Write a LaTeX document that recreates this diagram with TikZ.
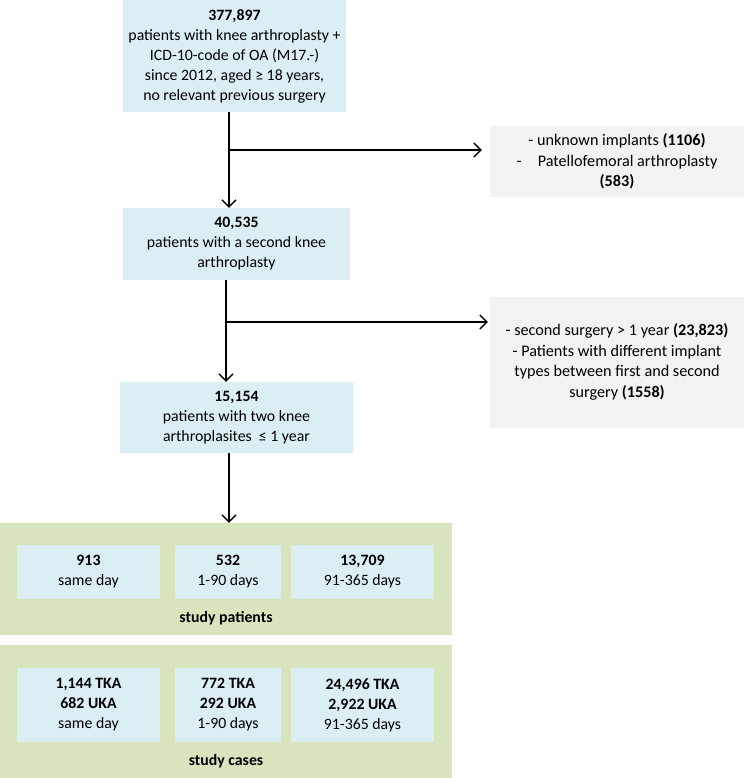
\documentclass[tikz,border=0pt]{standalone}
\usepackage{fontspec}
\setmainfont{Carlito}
\usetikzlibrary{arrows.meta}
\definecolor{boxblue}{HTML}{DBEEF4}
\definecolor{boxgrey}{HTML}{F2F2F2}
\definecolor{boxgreen}{HTML}{D7E4BD}
\tikzset{
  bluebox/.style={fill=boxblue, inner sep=0pt, align=center, font=\fontsize{15.8}{20}\selectfont},
  greybox/.style={fill=boxgrey, inner sep=0pt, align=center, font=\fontsize{16.2}{20.5}\selectfont},
  greenpanel/.style={fill=boxgreen, inner sep=0pt},
  flow/.style={line width=1.4pt, -{Straight Barb[length=7pt,width=14pt,line width=1.4pt]}},
  lbl/.style={font=\fontsize{15.8}{20}\selectfont\bfseries, inner sep=0pt}
}
\begin{document}
\begin{tikzpicture}[x=1pt,y=-1pt]
\useasboundingbox (0,0) rectangle (744,778);
% top boxes
\node[bluebox, minimum width=223pt, minimum height=112pt] (b1) at (234.5,56)
  {\textbf{377,897}\\patients with knee arthroplasty +\\ICD-10-code of OA (M17.-)\\since 2012, aged ≥ 18 years,\\no relevant previous surgery};
\node[bluebox, minimum width=227pt, minimum height=72pt] (b2) at (236.5,244)
  {\textbf{40,535}\\patients with a second knee\\arthroplasty};
\node[bluebox, minimum width=233pt, minimum height=71pt] (b3) at (236.5,417.5)
  {\textbf{15,154}\\patients with two knee\\arthroplasites\ \ ≤ 1 year};
\node[greybox, minimum width=254pt, minimum height=71pt] (g1) at (617,161.5)
  {- unknown implants \textbf{(1106)}\\-\quad Patellofemoral arthroplasty\\\textbf{(583)}};
\node[greybox, minimum width=254pt, minimum height=131pt] (g2) at (617,362)
  {- second surgery > 1 year \textbf{(23,823)}\\- Patients with different implant\\types between first and second\\surgery \textbf{(1558)}};
% green panels
\node[greenpanel, minimum width=452pt, minimum height=112pt] (p1) at (226,579) {};
\node[greenpanel, minimum width=452pt, minimum height=133pt] (p2) at (226,711.5) {};
\node[bluebox, minimum width=143pt, minimum height=54pt] (s1) at (88.5,572) {\textbf{913}\\same day};
\node[bluebox, minimum width=106pt, minimum height=54pt] (s2) at (228,572) {\textbf{532}\\1-90 days};
\node[bluebox, minimum width=143pt, minimum height=54pt] (s3) at (362.5,572) {\textbf{13,709}\\91-365 days};
\node[lbl] (l1) at (226,618) {study patients};
\node[bluebox, minimum width=143pt, minimum height=74pt] (c1) at (88.5,705) {\textbf{1,144 TKA}\\\textbf{682 UKA}\\same day};
\node[bluebox, minimum width=106pt, minimum height=74pt] (c2) at (228,705) {\textbf{772 TKA}\\\textbf{292 UKA}\\1-90 days};
\node[bluebox, minimum width=143pt, minimum height=74pt] (c3) at (362.5,705) {\textbf{24,496 TKA}\\\textbf{2,922 UKA}\\91-365 days};
\node[lbl] (l2) at (226,761) {study cases};
% connectors
\coordinate (j1) at (229,150);
\coordinate (j2) at (226,322);
\draw[flow] (b1.south -| j1) -- (b2.north -| j1);
\draw[flow] (j1) -- ([xshift=-8pt]g1.west |- j1);
\draw[flow] (b2.south -| j2) -- (b3.north -| j2);
\draw[flow] (j2) -- ([xshift=-2pt]g2.west |- j2);
\draw[flow] (b3.south -| j1) -- (p1.north -| j1);
\end{tikzpicture}
\end{document}
